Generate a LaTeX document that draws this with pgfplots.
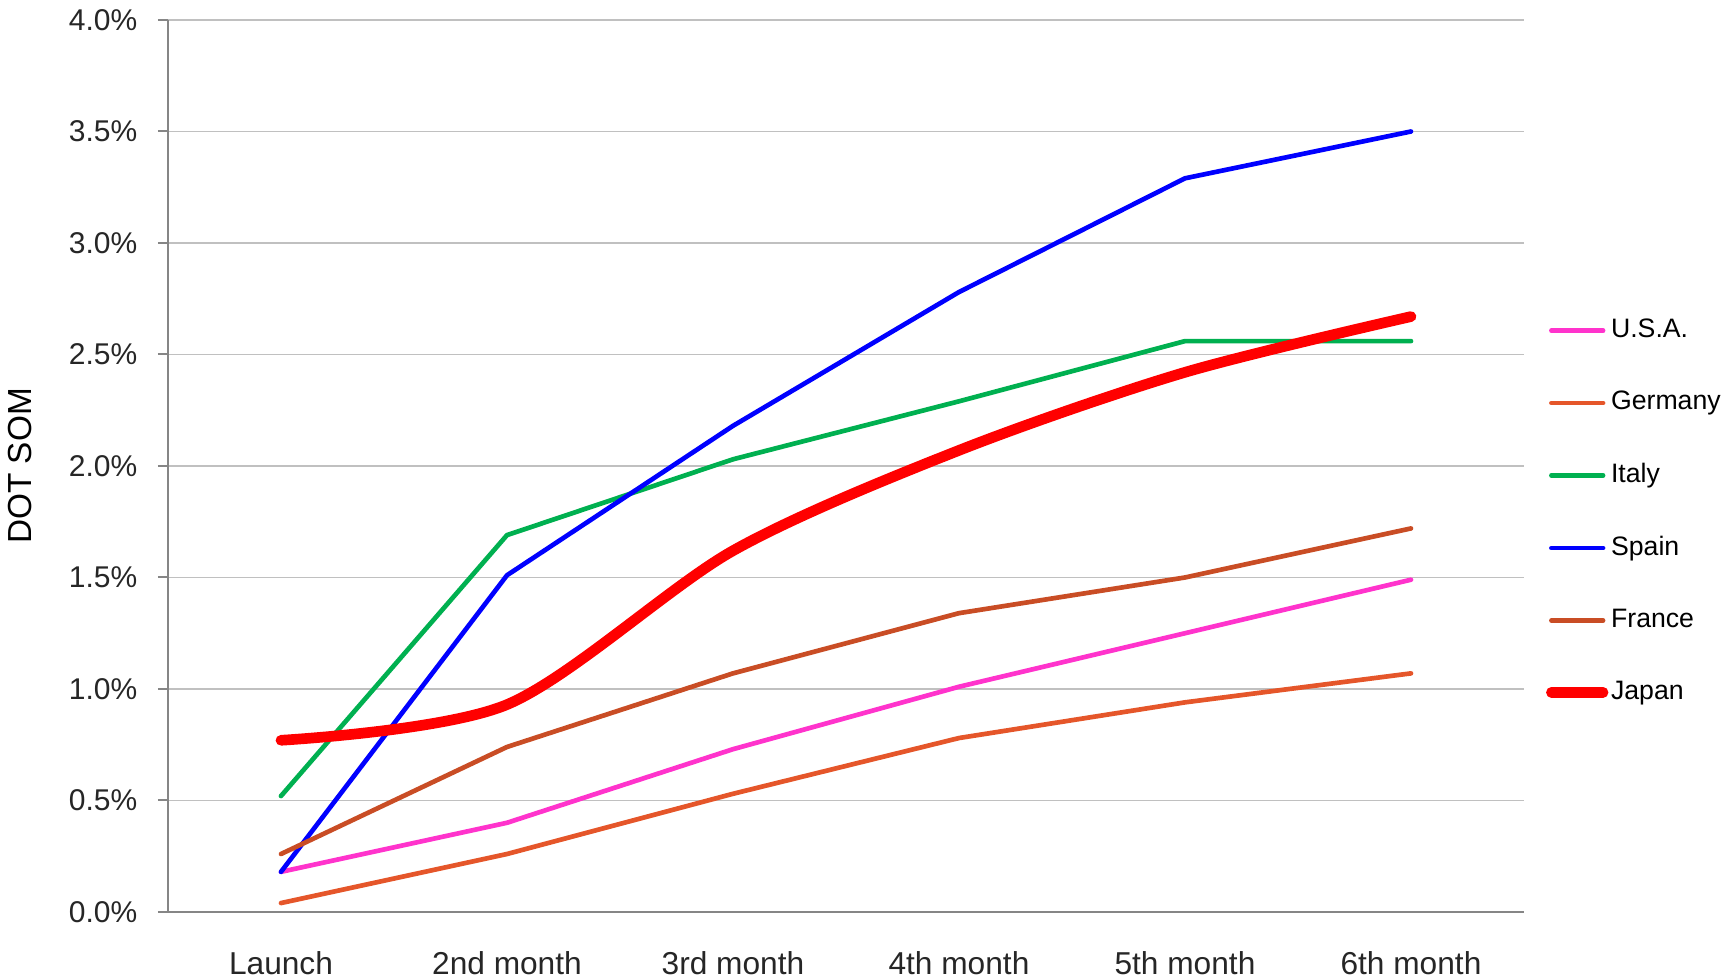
\documentclass[border=0pt]{standalone}
\usepackage{fontspec}
\setmainfont{Liberation Sans}
\usepackage{pgfplots}
\pgfplotsset{compat=1.18}
\definecolor{cusa}{HTML}{FF33CC}
\definecolor{cger}{HTML}{E5562A}
\definecolor{cita}{HTML}{00B050}
\definecolor{cspa}{HTML}{0000FF}
\definecolor{cfra}{HTML}{C94D25}
\definecolor{cjap}{HTML}{FF0000}
\definecolor{axgray}{HTML}{868686}
\definecolor{grgray}{HTML}{C0C0C0}
\begin{document}
\begin{tikzpicture}
\useasboundingbox (-50.4pt,-287.4pt) rectangle (469.2pt,6pt);
\begin{axis}[
  at={(0pt,0pt)}, anchor=north west,
  scale only axis,
  width=406.8pt, height=267.6pt,
  xmin=-0.5, xmax=5.5,
  ymin=0, ymax=4,
  xtick={0,1,2,3,4,5},
  xticklabels={Launch,2nd month,3rd month,4th month,5th month,6th month},
  ytick={0,0.5,1,1.5,2,2.5,3,3.5,4},
  yticklabel={\pgfmathprintnumber[fixed,fixed zerofill,precision=1]{\tick}\%},
  /pgf/number format/assume math mode=true,
  axis x line*=bottom,
  axis y line*=left,
  axis line style={axgray, line width=0.6pt, -},
  ymajorgrids,
  grid style={grgray, line width=0.5pt},
  major x tick style={draw=none},
  ytick style={axgray, line width=0.6pt},
  tick align=outside,
  major tick length=3pt,
  ticklabel style={font=\fontsize{9}{11}\selectfont, text=black!85},
  yticklabel style={xshift=-2.7pt},
  xticklabel style={font=\fontsize{9.5}{11}\selectfont, yshift=-5.3pt},
  ylabel={DOT SOM},
  ylabel style={font=\fontsize{10}{12}\selectfont, at={(axis description cs:-0.0914,0.5)}, anchor=south},
  clip=false,
  legend style={draw=none, fill=none, at={(1.0158,0.449)}, anchor=west,
    font=\fontsize{8}{10}\selectfont, row sep=10.55pt, inner sep=0pt,
    nodes={inner xsep=0.8pt},
    /tikz/every even column/.append style={column sep=0pt}},
  legend cell align=left,
  legend image code/.code={\draw[#1, line cap=round] (0pt,0pt) -- (15.5pt,0pt);},
  every axis plot/.append style={line cap=round, line join=round},
]
\addplot[cusa, line width=1.4pt] coordinates {(0,0.18) (1,0.40) (2,0.73) (3,1.01) (4,1.25) (5,1.49)};
\addlegendentry{U.S.A.}
\addplot[cger, line width=1.4pt] coordinates {(0,0.04) (1,0.26) (2,0.53) (3,0.78) (4,0.94) (5,1.07)};
\addlegendentry{Germany}
\addplot[cita, line width=1.4pt] coordinates {(0,0.52) (1,1.69) (2,2.03) (3,2.29) (4,2.56) (5,2.56)};
\addlegendentry{Italy}
\addplot[cspa, line width=1.4pt] coordinates {(0,0.18) (1,1.51) (2,2.18) (3,2.78) (4,3.29) (5,3.50)};
\addlegendentry{Spain}
\addplot[cfra, line width=1.4pt] coordinates {(0,0.26) (1,0.74) (2,1.07) (3,1.34) (4,1.50) (5,1.72)};
\addlegendentry{France}
\addplot[cjap, line width=3.2pt, smooth, tension=0.5] coordinates {(0,0.77) (1,0.93) (2,1.62) (3,2.07) (4,2.42) (5,2.67)};
\addlegendentry{Japan}
\end{axis}
\end{tikzpicture}
\end{document}
